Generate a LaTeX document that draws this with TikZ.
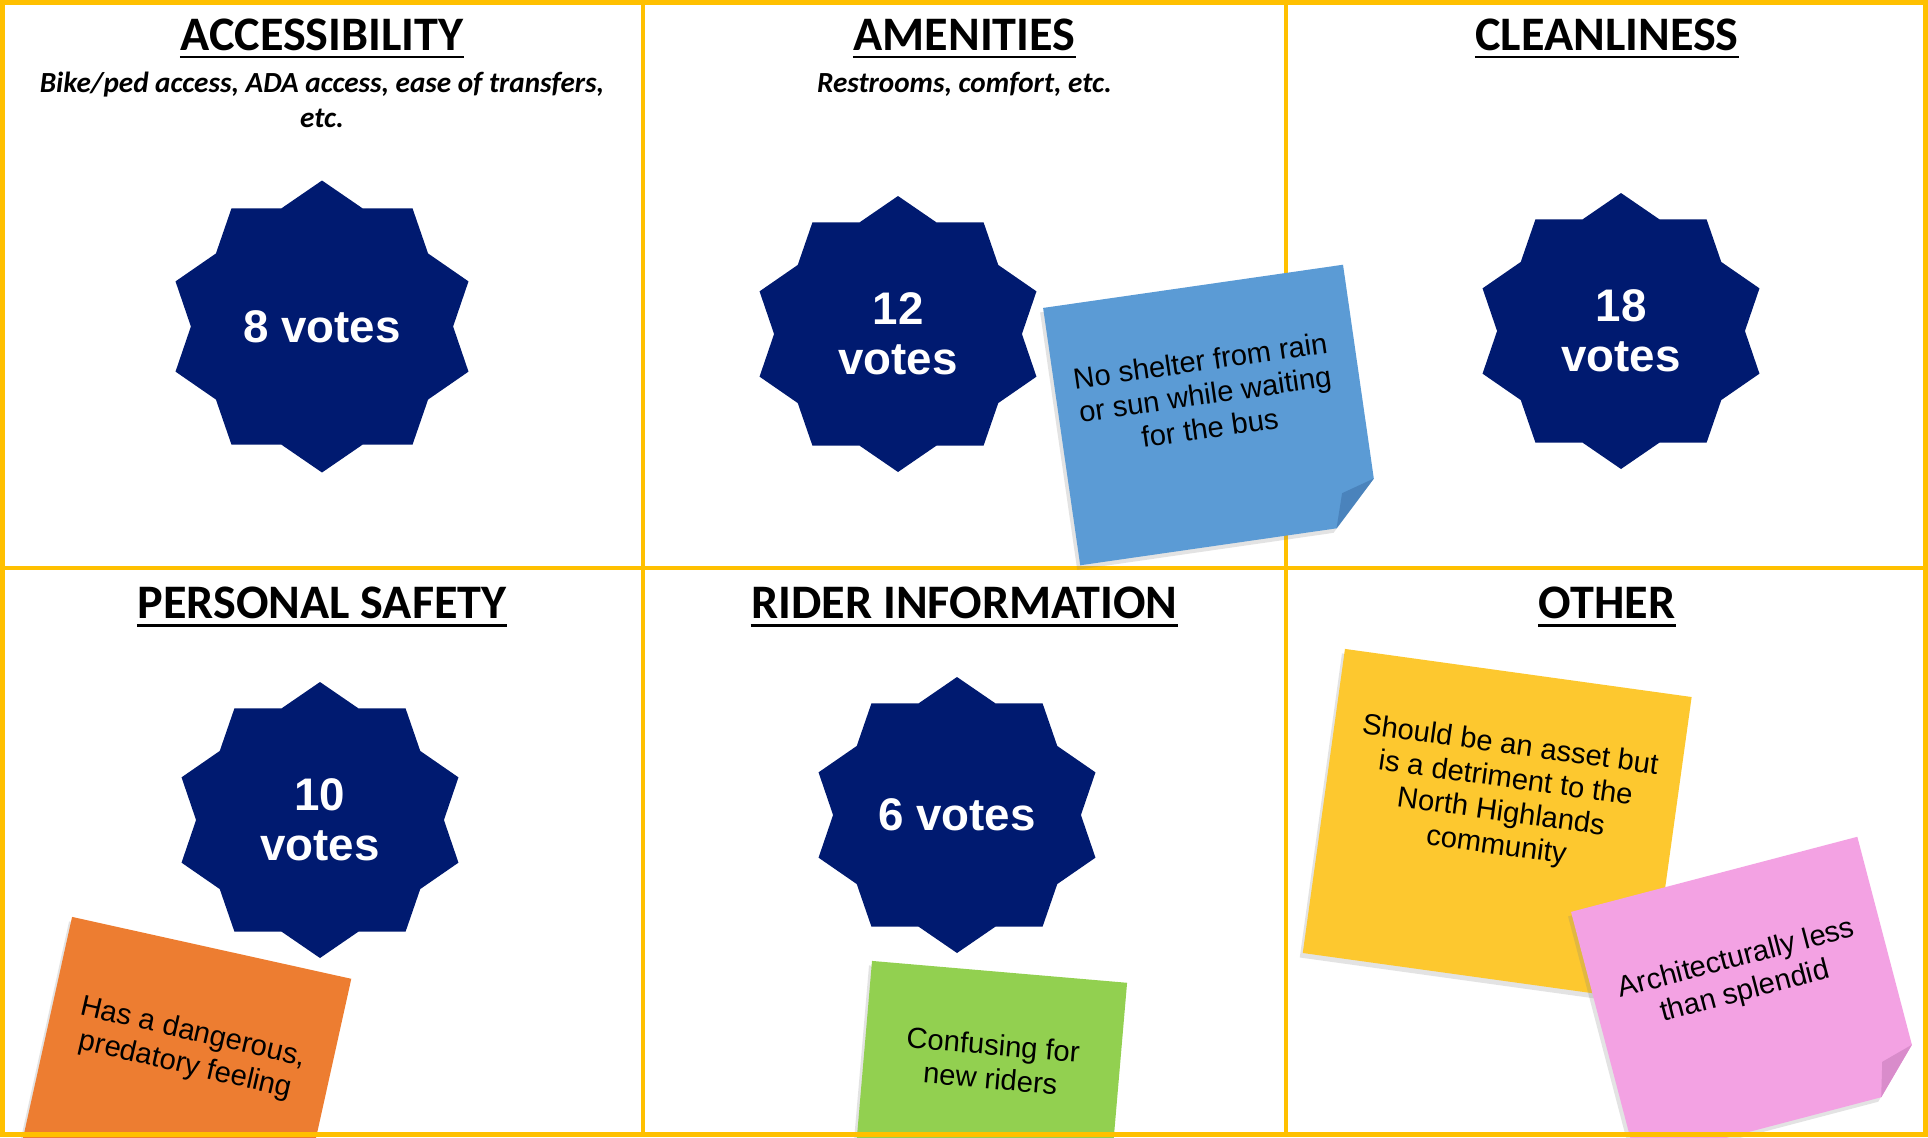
\documentclass[tikz,border=0pt]{standalone}
\usepackage{fontspec}
\setmainfont{Liberation Sans}
\newfontfamily\calibrifont{Carlito}
\usetikzlibrary{shapes.geometric, shadows, positioning, calc}
\definecolor{gridyellow}  {HTML}{FFC000}
\definecolor{starnavy}    {HTML}{001A70}
\definecolor{noteblue}    {HTML}{5B9BD5}
\definecolor{noteblueflap}{HTML}{4A83BC}
\definecolor{noteorange}  {HTML}{ED7D31}
\definecolor{notegreen}   {HTML}{92D050}
\definecolor{noteyellow}  {HTML}{FDC82F}
\definecolor{notepink}    {HTML}{F3A2E3}
\definecolor{notepinkflap}{HTML}{D98CCB}
\tikzset{
  header/.style={font=\calibrifont\bfseries\fontsize{13.7}{16}\selectfont,
    inner sep=0pt, anchor=base},
  headrule/.style={line width=0.85pt, black},
  subhead/.style={font=\calibrifont\bfseries\itshape\fontsize{8.3}{10}\selectfont,
    inner sep=0pt, align=center},
  gridline/.style={gridyellow, line width=0.045cm},
  votestar/.style={star, star points=10, star point ratio=1.175, fill=starnavy,
    inner sep=0pt, minimum size=2.76cm, xscale=1.055, transform shape},
  votetext/.style={text=white, align=center, inner sep=0pt,
    font=\bfseries\fontsize{13}{14.3}\selectfont},
  notepaper/.style={drop shadow={shadow xshift=-0.03cm, shadow yshift=-0.045cm,
    opacity=0.22}},
  notetext/.style={align=center, inner sep=0pt, transform shape,
    font=\fontsize{8.3}{9.6}\selectfont}
}

\begin{document}
\begin{tikzpicture}

  \useasboundingbox (0,0) rectangle (19.28,-11.37);
  \fill[white] (0,0) rectangle (19.28,-11.37);

  %% GRID
  \draw[gridline] (6.43,0) -- (6.43,-11.37);
  \draw[gridline] (12.86,0) -- (12.86,-11.37);
  \draw[gridline] (0,-5.68) -- (19.28,-5.68);

  %% TOP ROW
  \node[header] (acc-hd) at (3.22,-0.50) {ACCESSIBILITY};
  \node[subhead, below=0.2cm of acc-hd] (acc-sub)
    {Bike/ped access, ADA access, ease of transfers,\\etc.};
  \node[votestar, minimum size=2.92cm] (acc-star) at (3.22,-3.265) {};
  \node[votetext] (acc-votes) at (acc-star) {8 votes};

  \node[header] (ame-hd) at (9.645,-0.50) {AMENITIES};
  \node[subhead, below=0.2cm of ame-hd] (ame-sub) {Restrooms, comfort, etc.};
  \node[votestar] (ame-star) at (8.98,-3.34) {};
  \node[votetext] (ame-votes) at (ame-star) {12\\votes};

  \node[header] (cln-hd) at (16.07,-0.50) {CLEANLINESS};
  \node[votestar] (cln-star) at (16.21,-3.31) {};
  \node[votetext] (cln-votes) at (cln-star) {18\\votes};

  %% BOTTOM ROW
  \node[header] (saf-hd) at (3.22,-6.18) {PERSONAL SAFETY};
  \node[votestar] (saf-star) at (3.20,-8.20) {};
  \node[votetext] (saf-votes) at (saf-star) {10\\votes};

  \node[header] (inf-hd) at (9.645,-6.18) {RIDER INFORMATION};
  \node[votestar] (inf-star) at (9.57,-8.15) {};
  \node[votetext] (inf-votes) at (inf-star) {6 votes};

  \node[header] (oth-hd) at (16.07,-6.18) {OTHER};

  \foreach \hd in {acc-hd, ame-hd, cln-hd, saf-hd, inf-hd, oth-hd}
    \draw[headrule] ([yshift=-0.07cm]\hd.base west) -- ([yshift=-0.07cm]\hd.base east);

  %% STICKY NOTES
  \begin{scope}[shift={(12.116,-4.15)}, rotate=8.2]
    \fill[noteblue, notepaper] (-1.515,1.3) -- (1.515,1.3) -- (1.515,-0.86)
      -- (1.075,-1.3) -- (-1.515,-1.3) -- cycle;
    \fill[noteblueflap] (1.515,-0.86) -- (1.075,-1.3) -- (1.18,-0.96) -- cycle;
    \node[notetext] (shelter) at (-0.035,0.217)
      {No shelter from rain\\or sun while waiting\\for the bus};
  \end{scope}

  \begin{scope}[shift={(1.803,-10.894)}, rotate=-12.5]
    \fill[noteorange, notepaper] (-1.43,1.45) rectangle (1.43,-1.45);
    \node[notetext, rotate=-0.5] (danger) at (0,0.41)
      {Has a dangerous,\\predatory feeling};
  \end{scope}

  \begin{scope}[shift={(9.893,-10.914)}, rotate=-4.9]
    \fill[notegreen, notepaper] (-1.28,1.2) rectangle (1.28,-1.2);
    \node[notetext] (confusing) at (0,0.30) {Confusing for\\new riders};
  \end{scope}

  \begin{scope}[shift={(14.972,-8.25)}, rotate=-7.9]
    \fill[noteyellow, notepaper] (-1.75,1.535) rectangle (1.75,-1.535);
    \node[notetext] (asset) at (0.02,0.29)
      {Should be an asset but\\is a detriment to the\\North Highlands\\community};
  \end{scope}

  \begin{scope}[shift={(17.469,-9.991)}, rotate=14.7]
    \fill[notepink, notepaper] (-1.48,1.29) -- (1.48,1.29) -- (1.48,-0.86)
      -- (1.05,-1.29) -- (-1.48,-1.29) -- cycle;
    \fill[notepinkflap] (1.48,-0.86) -- (1.05,-1.29) -- (1.15,-0.95) -- cycle;
    \node[notetext] (splendid) at (0.0,0.24)
      {Architecturally less\\than splendid};
  \end{scope}

  %% FRAME
  \draw[gridyellow, line width=0.05cm] (0.025,-0.025) rectangle (19.255,-11.345);

\end{tikzpicture}
\end{document}
